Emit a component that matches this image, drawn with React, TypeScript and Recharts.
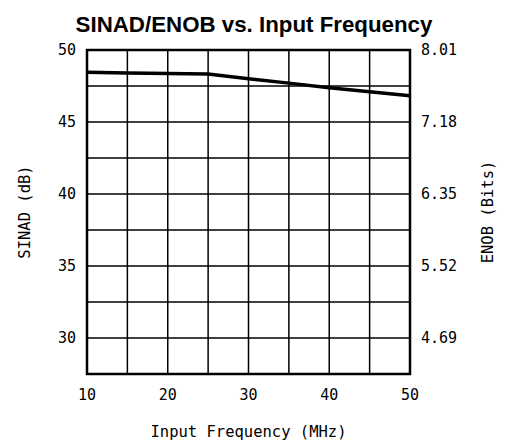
import React from "react";
import {
  LineChart,
  Line,
  XAxis,
  YAxis,
  CartesianGrid,
  ReferenceArea,
  Label,
} from "recharts";

const frequencies = [10, 15, 20, 25, 30, 35, 40, 45, 50];
const sinadValues = [48.45, 48.4, 48.37, 48.33, 48.0, 47.7, 47.38, 47.1, 46.83];

const xGridTicks = [10, 15, 20, 25, 30, 35, 40, 45, 50];
const xTickLabels = ["10", "", "20", "", "30", "", "40", "", "50"];
const yGridTicks = [27.5, 30, 32.5, 35, 37.5, 40, 42.5, 45, 47.5, 50];
const sinadTickLabels = ["", "30", "", "35", "", "40", "", "45", "", "50"];
const enobTickLabels = ["", "4.69", "", "5.52", "", "6.35", "", "7.18", "", "8.01"];

const data = frequencies.map((f, i) => ({ freq: f, sinad: sinadValues[i] }));

const mono = "'DejaVu Sans Mono', monospace";
const tickStyle = { fontFamily: mono, fontSize: 15, fill: "#000" };

const labelFor = (labels: string[], ticks: number[]) => (v: number) => {
  const i = ticks.indexOf(v);
  return i >= 0 ? labels[i] : "";
};

export default function App() {
  return (
    <div style={{ position: "absolute", left: 0, top: 0, width: 507, height: 443, background: "#fff" }}>
      <div
        style={{
          position: "absolute",
          left: 0,
          top: 11,
          width: 508,
          textAlign: "center",
          fontFamily: "'Liberation Sans', Arial, sans-serif",
          fontWeight: "bold",
          fontSize: 22.3,
          lineHeight: "28px",
          color: "#000",
        }}
      >
        SINAD/ENOB vs. Input Frequency
      </div>
      <LineChart
        width={507}
        height={443}
        data={data}
        margin={{ top: 50, right: 0, bottom: 0, left: 0 }}
      >
        <CartesianGrid yAxisId="left" stroke="#000" strokeWidth={1.5} />
        <XAxis
          dataKey="freq"
          type="number"
          domain={[10, 50]}
          ticks={xGridTicks}
          interval={0}
          tickFormatter={labelFor(xTickLabels, xGridTicks)}
          axisLine={false}
          tickLine={false}
          tickMargin={9}
          height={69}
          tick={tickStyle}
        >
          <Label
            value="Input Frequency (MHz)"
            position="insideBottom"
            offset={6}
            style={{ fontFamily: mono, fontSize: 15.5, fill: "#000" }}
          />
        </XAxis>
        <YAxis
          yAxisId="left"
          orientation="left"
          type="number"
          domain={[27.5, 50]}
          ticks={yGridTicks}
          interval={0}
          tickFormatter={labelFor(sinadTickLabels, yGridTicks)}
          axisLine={false}
          tickLine={false}
          tickMargin={5}
          width={87}
          tick={tickStyle}
        >
          <Label
            value="SINAD (dB)"
            angle={-90}
            position="insideLeft"
            offset={24}
            style={{ fontFamily: mono, fontSize: 15.5, fill: "#000", textAnchor: "middle" }}
          />
        </YAxis>
        <YAxis
          yAxisId="right"
          orientation="right"
          type="number"
          domain={[27.5, 50]}
          ticks={yGridTicks}
          interval={0}
          tickFormatter={labelFor(enobTickLabels, yGridTicks)}
          axisLine={false}
          tickLine={false}
          tickMargin={5}
          width={97}
          tick={tickStyle}
        >
          <Label
            value="ENOB (Bits)"
            angle={-90}
            position="insideRight"
            offset={20}
            style={{ fontFamily: mono, fontSize: 15.5, fill: "#000", textAnchor: "middle" }}
          />
        </YAxis>
        <ReferenceArea
          yAxisId="left"
          x1={10}
          x2={50}
          y1={27.5}
          y2={50}
          fill="none"
          stroke="#000"
          strokeWidth={2.5}
          ifOverflow="visible"
        />
        <Line
          yAxisId="right"
          dataKey="sinad"
          type="linear"
          stroke="transparent"
          strokeWidth={0}
          dot={false}
          activeDot={false}
          legendType="none"
          isAnimationActive={false}
        />
        <Line
          yAxisId="left"
          dataKey="sinad"
          type="linear"
          stroke="#000"
          strokeWidth={3.5}
          dot={false}
          isAnimationActive={false}
        />
      </LineChart>
    </div>
  );
}
